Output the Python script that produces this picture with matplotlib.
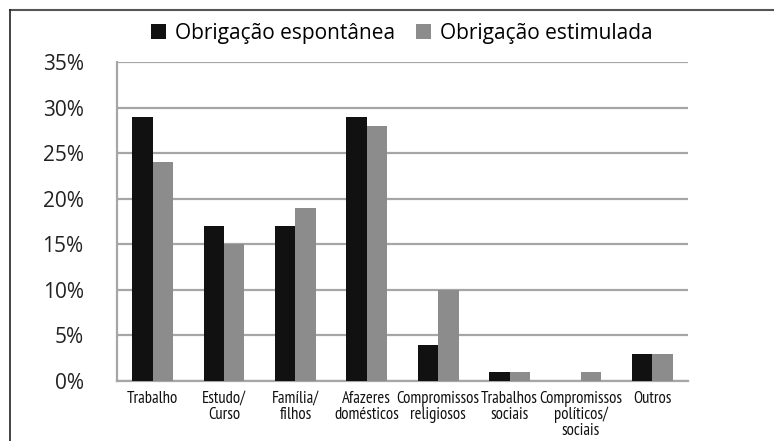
import matplotlib
matplotlib.use("Agg")
import matplotlib.pyplot as plt
import numpy as np

categories = ["Trabalho", "Estudo/\nCurso", "Família/\nfilhos", "Afazeres\ndomésticos",
              "Compromissos\nreligiosos", "Trabalhos\nsociais", "Compromissos\npolíticos/\nsociais", "Outros"]
espontanea = [29, 17, 17, 29, 4, 1, 0, 3]
estimulada = [24, 15, 19, 28, 10, 1, 1, 3]
series_names = ["Obrigação espontânea", "Obrigação estimulada"]
yticks = [0, 5, 10, 15, 20, 25, 30, 35]
ytick_labels = ["0%", "5%", "10%", "15%", "20%", "25%", "30%", "35%"]

W, H = 774, 441
fig = plt.figure(figsize=(W / 100, H / 100), dpi=100)
ax = fig.add_axes([117 / W, 1 - 381 / H, (688 - 117) / W, (381 - 62) / H])

x = np.arange(len(categories))
bw = 0.285
ax.bar(x - bw / 2, espontanea, bw, color="#111111", label=series_names[0], zorder=3)
ax.bar(x + bw / 2, estimulada, bw, color="#8c8c8c", label=series_names[1], zorder=3)

ax.set_xlim(-0.5, len(categories) - 0.5)
ax.set_ylim(0, 35)
ax.set_yticks(yticks)
ax.set_yticklabels(ytick_labels, family="Open Sans", fontsize=15, color="#222222")
ax.set_xticks(x)
ax.set_xticklabels(categories, family=["PT Sans Narrow", "Roboto Condensed", "Liberation Sans"],
                   fontsize=12, linespacing=1.0, color="#111111")
ax.tick_params(axis="x", length=0, pad=7)
ax.tick_params(axis="y", length=0, pad=24)
ax.grid(axis="y", color="#a6a6a6", linewidth=1.6, zorder=0)
for s in ["top", "right"]:
    ax.spines[s].set_visible(False)
ax.spines["left"].set_color("#a6a6a6")
ax.spines["left"].set_linewidth(1.6)
ax.spines["bottom"].set_color("#a6a6a6")
ax.spines["bottom"].set_linewidth(1.6)

fig.legend(loc="center", bbox_to_anchor=(402 / W, 1 - 33 / H), ncol=2, frameon=False,
           prop={"family": "Open Sans", "size": 15}, handlelength=0.7, handleheight=0.7,
           handletextpad=0.45, columnspacing=1.0)

# outer frame (clipped on the right and bottom)
fig.add_artist(plt.Line2D([10 / W, 1.0], [1 - 10 / H, 1 - 10 / H], color="#555555", linewidth=1.5))
fig.add_artist(plt.Line2D([10 / W, 10 / W], [0, 1 - 10 / H], color="#222222", linewidth=1.2))

fig.savefig("out.png", dpi=100)
